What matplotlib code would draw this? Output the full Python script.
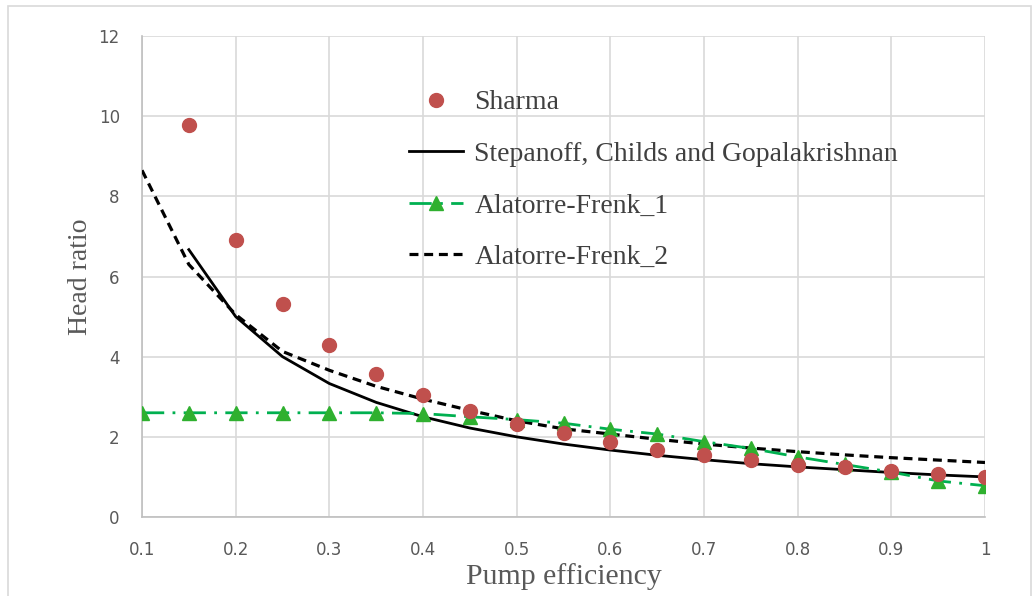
import matplotlib
matplotlib.use("Agg")
import matplotlib.pyplot as plt
from matplotlib.patches import Rectangle

# Pump efficiency grid (x values)
efficiency = [0.10, 0.15, 0.20, 0.25, 0.30, 0.35, 0.40, 0.45, 0.50, 0.55,
              0.60, 0.65, 0.70, 0.75, 0.80, 0.85, 0.90, 0.95, 1.00]

# Sharma data points (from 0.15)
sharma_eff = efficiency[1:]
sharma = [9.78, 6.92, 5.32, 4.30, 3.58, 3.05, 2.64, 2.33, 2.09, 1.88,
          1.68, 1.55, 1.43, 1.30, 1.24, 1.16, 1.08, 1.00]

# Stepanoff, Childs and Gopalakrishnan (from 0.15)
stepanoff_eff = efficiency[1:]
stepanoff = [6.67, 5.00, 4.00, 3.33, 2.86, 2.50, 2.22, 2.00, 1.82, 1.67,
             1.54, 1.43, 1.33, 1.25, 1.18, 1.11, 1.05, 1.00]

# Alatorre-Frenk correlations
alatorre_1 = [2.60, 2.60, 2.60, 2.60, 2.60, 2.60, 2.58, 2.50, 2.43, 2.34,
              2.19, 2.07, 1.88, 1.71, 1.50, 1.31, 1.12, 0.90, 0.78]
alatorre_2 = [8.65, 6.30, 5.05, 4.13, 3.66, 3.26, 2.94, 2.66, 2.40, 2.20,
              2.07, 1.94, 1.82, 1.72, 1.63, 1.55, 1.48, 1.42, 1.36]

x_ticks = [0.1, 0.2, 0.3, 0.4, 0.5, 0.6, 0.7, 0.8, 0.9, 1.0]
x_tick_labels = ["0.1", "0.2", "0.3", "0.4", "0.5", "0.6", "0.7", "0.8", "0.9", "1"]
y_ticks = [0, 2, 4, 6, 8, 10, 12]

serif = ["Liberation Serif", "DejaVu Serif"]
tick_color = "#595959"
grid_color = "#d9d9d9"

fig = plt.figure(figsize=(10.32, 5.96), dpi=100)
fig.patch.set_facecolor("white")

# outer chart frame
fig.patches.append(Rectangle((8 / 1032, -0.01), (1031 - 8) / 1032, 1 - 6 / 596 + 0.01,
                             transform=fig.transFigure, fill=False,
                             edgecolor="#d9d9d9", linewidth=1.2))

ax = fig.add_axes([142 / 1032, 1 - 517 / 596, (985 - 142) / 1032, (517 - 36) / 596])

ax.plot(sharma_eff, sharma, linestyle="none", marker="o", markersize=10,
        color="#c0504d", label="Sharma", zorder=5)
ax.plot(stepanoff_eff, stepanoff, color="black", linewidth=2.0,
        label="Stepanoff, Childs and Gopalakrishnan", zorder=3)
ax.plot(efficiency, alatorre_1, color="#00b050", linewidth=2.0,
        dashes=(8, 3, 1, 3), marker="^", markersize=9.5,
        markerfacecolor="#2fb02f", markeredgecolor="#2fb02f",
        label="Alatorre-Frenk_1", zorder=4)
ax.plot(efficiency, alatorre_2, color="black", linewidth=2.3,
        dashes=(2.8, 1.8), label="Alatorre-Frenk_2", zorder=3)

ax.set_xlim(0.1, 1.0)
ax.set_ylim(0, 12)
ax.set_xticks(x_ticks)
ax.set_xticklabels(x_tick_labels)
ax.set_yticks(y_ticks)

ax.grid(True, color=grid_color, linewidth=1.2)
ax.set_axisbelow(True)
for side in ["top", "right"]:
    ax.spines[side].set_visible(False)
for side in ["left", "bottom"]:
    ax.spines[side].set_color("#bfbfbf")
    ax.spines[side].set_linewidth(1.2)

ax.tick_params(axis="both", length=0, labelsize=12, labelcolor=tick_color)
ax.tick_params(axis="x", pad=17)
ax.tick_params(axis="y", pad=16)

ax.set_xlabel("Pump efficiency", family=serif, fontsize=21.5, color=tick_color, labelpad=3)
ax.set_ylabel("Head ratio", family=serif, fontsize=20, color=tick_color, labelpad=4)

leg = ax.legend(loc="upper left", bbox_to_anchor=(0.3036, 0.911), frameon=False,
                prop={"family": serif, "size": 20}, labelcolor="#404040",
                handlelength=1.95, handletextpad=0.4, labelspacing=0.94,
                borderaxespad=0)

fig.savefig("out.png", dpi=100, facecolor="white")
